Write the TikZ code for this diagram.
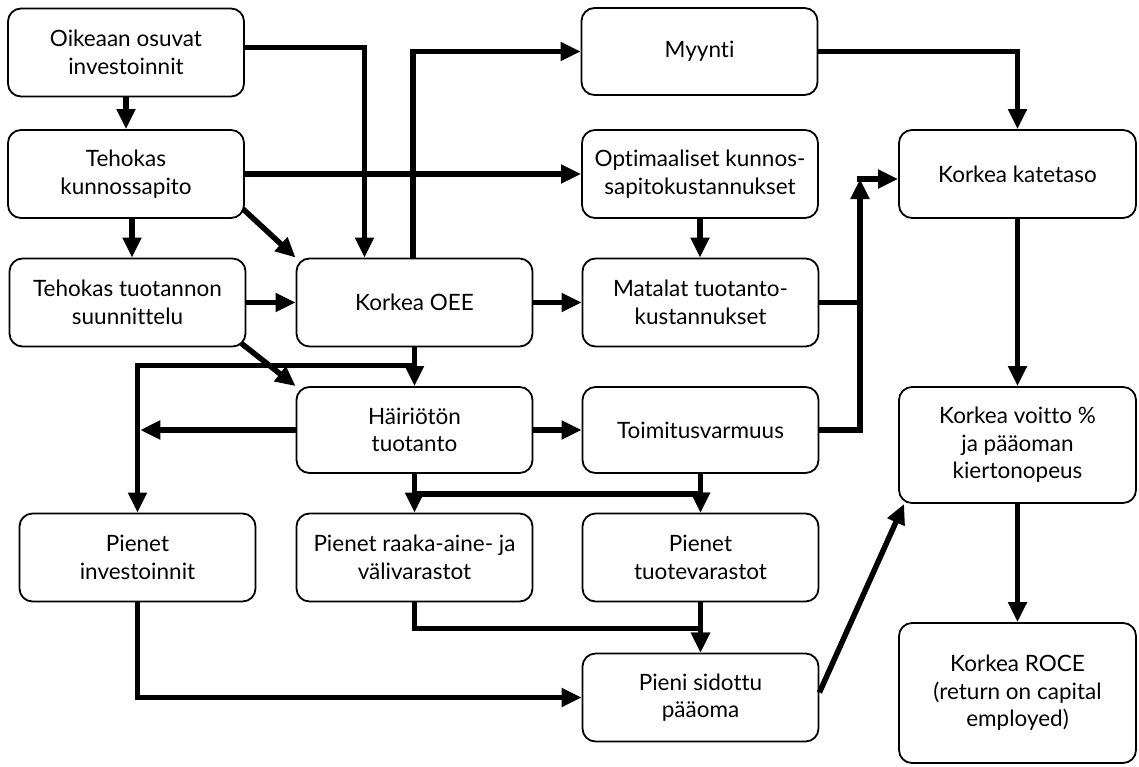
\documentclass[tikz,border=0pt]{standalone}
\usepackage{fontspec}
\setmainfont[Ligatures=NoCommon]{Lato}
\usetikzlibrary{arrows.meta,calc}
\begin{document}
\begin{tikzpicture}[x=1pt,y=-1pt,
  box/.style={draw, line width=1.8pt, rounded corners=13pt,
    minimum width=236pt, minimum height=88pt, align=center,
    inner sep=0pt, font=\fontsize{22.5}{27.5}\selectfont},
  link/.style={line width=5.5pt, -{Triangle[length=20pt,width=18pt]}},
  plain/.style={line width=5.5pt}]
\useasboundingbox (0,0) rectangle (1139,766);

% boxes
\node[box] (oik)   at (126,52.5)   {Oikeaan osuvat\\investoinnit};
\node[box] (teh)   at (126,174)    {Tehokas\\kunnossapito};
\node[box] (tts)   at (127.5,302.5){Tehokas tuotannon\\suunnittelu};
\node[box] (oee)   at (414.5,302.5){Korkea OEE};
\node[box, minimum height=86pt] (hai) at (414.5,430) {Häiriötön\\tuotanto};
\node[box] (pinv)  at (137.5,557.5){Pienet\\investoinnit};
\node[box] (raaka) at (414.5,557.5){Pienet raaka-aine- ja\\välivarastot};
\node[box, minimum height=87pt] (myy) at (699.5,51.5) {Myynti};
\node[box] (opt)   at (700,174)    {Optimaaliset kunnos-\\sapitokustannukset};
\node[box] (mat)   at (700.5,302.5){Matalat tuotanto-\\kustannukset};
\node[box, minimum height=86pt] (toi) at (700.5,430) {Toimitusvarmuus};
\node[box] (tuot)  at (700.5,557.5){Pienet\\tuotevarastot};
\node[box] (sid)   at (700.5,697.5){Pieni sidottu\\pääoma};
\node[box, minimum width=237pt] (kat) at (1017.5,174) {Korkea katetaso};
\node[box, minimum width=237pt, minimum height=116pt] (voi) at (1017.5,445)
  {Korkea voitto \%\\ja pääoman\\kiertonopeus};
\node[box, minimum width=237pt, minimum height=140pt] (roce) at (1017.5,693)
  {Korkea ROCE\\(return on capital\\employed)};

% junction in front of Korkea katetaso
\coordinate (jk) at (860,179);

% connectors
\draw[link] (oik.south) -- (teh.north);
\draw[link] ([yshift=5pt]oik.east) -| ([xshift=-50pt]oee.north);
\draw[link] ([xshift=-1.5pt]oee.north) |- (myy.west);
\draw[link] (teh.east) -- (opt.west);
\draw[link] ($(teh.south east)+(-2,-10)$) -- (oee.north west);
\draw[link] ([xshift=6pt]teh.south) -- ([xshift=4.5pt]tts.north);
\draw[link] (tts.east) -- (oee.west);
\draw[link] ($(tts.south east)+(-5,-4)$) -- (hai.north west);
\draw[link] (oee.south) -- (hai.north);
\draw[link] ($(oee.south)+(0,18)$) -| (pinv.north);
\draw[link] (hai.west) -- ([xshift=2.75pt]pinv.north |- hai.west);
\draw[link] (oee.east) -- (mat.west);
\draw[link] (hai.east) -- (toi.west);
\draw[link] (opt.south) -- (opt.south |- mat.north);
\draw[plain] (mat.east) -- (mat.east -| jk);
\draw[link] (toi.east) -| (jk);
\draw[link] ([xshift=-2.75pt]jk) -- (jk -| kat.west);
\draw[link] (myy.east) -| (kat.north);
\draw[link] (kat.south) -- (voi.north);
\draw[link] (voi.south) -- (roce.north);
\draw[link] (hai.south) -- (raaka.north);
\draw[link] ($(hai.south)+(0,20)$) -| (tuot.north);
\draw[link] (toi.south) -- (tuot.north);
\draw[link] (raaka.south) -- ++(0,26) -| (sid.north);
\draw[link] (tuot.south) -- (sid.north);
\draw[link] (pinv.south) |- (sid.west);
\draw[link] ($(sid.east)+(0,-5)$) -- ($(voi.south west)+(6,0)$);
\end{tikzpicture}
\end{document}
